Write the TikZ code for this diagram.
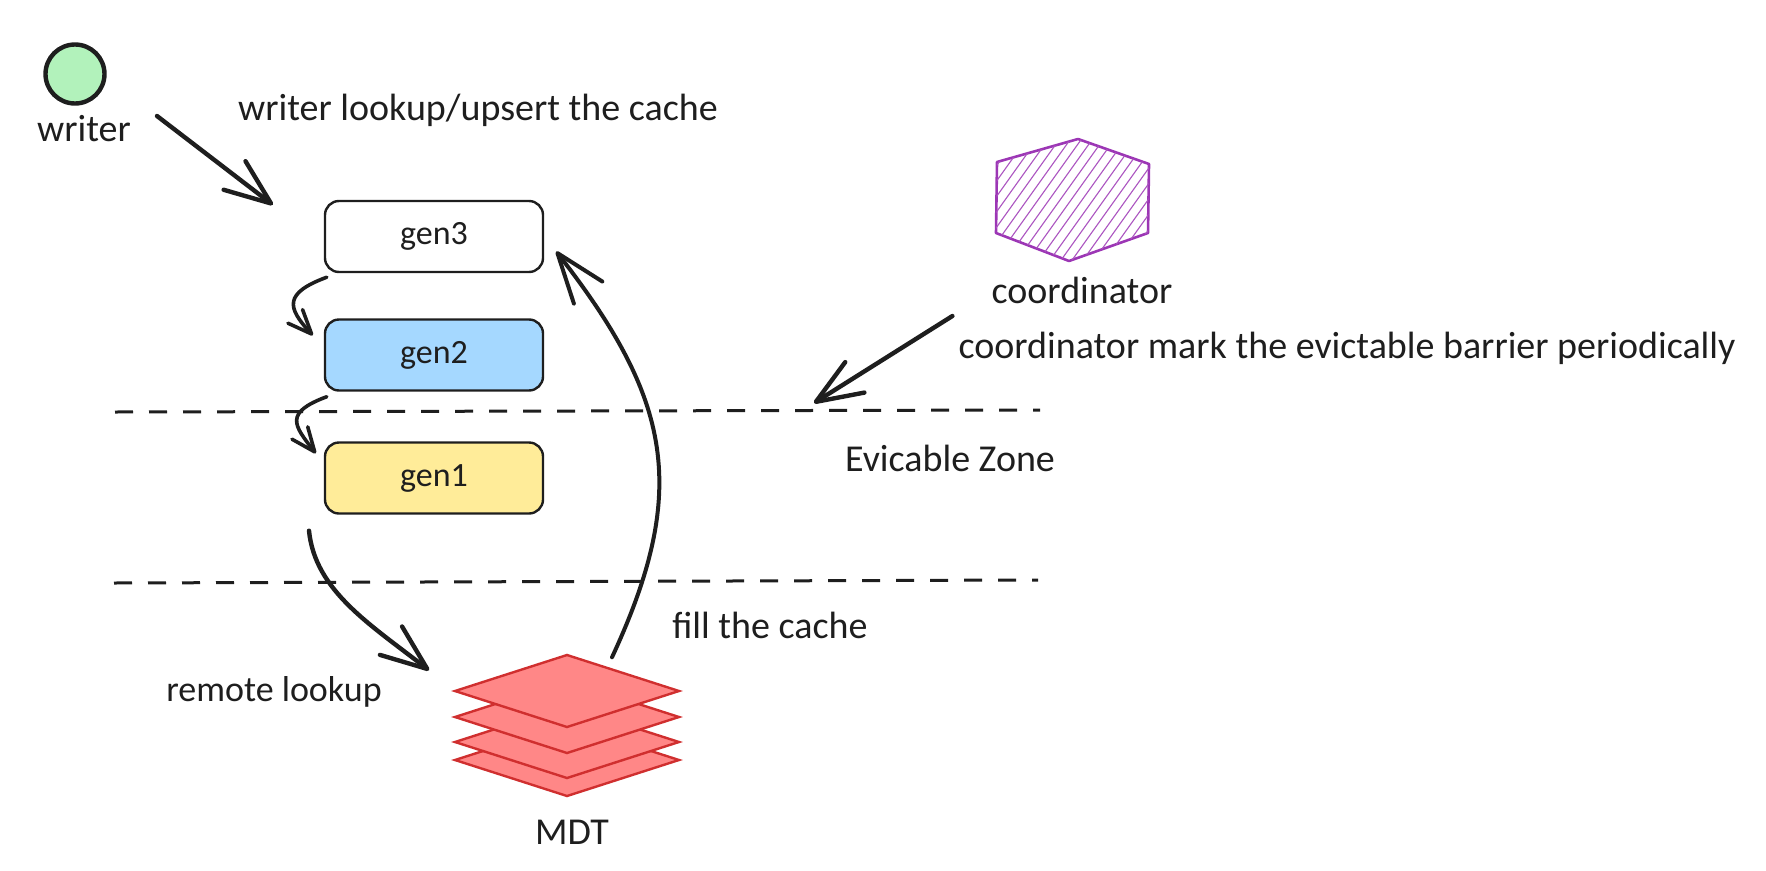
\documentclass[tikz,border=0pt]{standalone}
\usepackage{fontspec}
\setmainfont{Carlito}
\usetikzlibrary{shapes,arrows.meta,positioning,calc}

\definecolor{ink}{HTML}{1E1E1E}
\definecolor{writergreen}{HTML}{B2F2BB}
\definecolor{genblue}{HTML}{A5D8FF}
\definecolor{genyellow}{HTML}{FFEC99}
\definecolor{mdtfill}{HTML}{FF8787}
\definecolor{mdtline}{HTML}{D02F2F}
\definecolor{coordline}{HTML}{9C36B5}

\begin{document}
\begin{tikzpicture}[
    x=1pt, y=-1pt,
    label/.style={inner sep=0pt, text=ink, font=\fontsize{38}{40}\selectfont},
    box/.style={rectangle, rounded corners=14pt, draw=ink, line width=2.4pt, minimum width=218pt, minimum height=71pt, inner sep=0pt, text=ink, font=\fontsize{34}{38}\selectfont},
    layer/.style={diamond, aspect=3, draw=mdtline, line width=2.4pt, fill=mdtfill, minimum width=225pt, minimum height=73pt, inner sep=0pt},
    arrow/.style={line width=4.4pt, draw=ink, line cap=round, -{Straight Barb[length=46pt, width=36pt, round]}},
    thinarrow/.style={line width=3.6pt, draw=ink, line cap=round, -{Straight Barb[length=24pt, width=20pt, round]}},
    fillarrow/.style={line width=4pt, draw=ink, line cap=round, -{Straight Barb[length=50pt, width=36pt, round]}},
    barrier/.style={line width=3pt, draw=ink, dash pattern=on 18pt off 16pt}
]
    \useasboundingbox (0,0) rectangle (1766,870);

    % Writer
    \node[circle, draw=ink, line width=4.4pt, fill=writergreen, minimum size=59pt, inner sep=0pt] (writer) at (75,74) {};
    \node[label] (writer_desc) at (84,129) {writer};
    \node[label] (writer_note) at (478,110) {writer lookup/upsert the cache};

    % Generations
    \node[box] (gen3) at (434,236.5) {gen3};
    \node[box, fill=genblue] (gen2) at (434,355) {gen2};
    \node[box, fill=genyellow] (gen1) at (434,478) {gen1};

    % Barriers
    \coordinate (upper_left) at (115,412);
    \coordinate (upper_right) at (1040,410);
    \coordinate (lower_left) at (114,583);
    \coordinate (lower_right) at (1038,580);
    \coordinate (barrier_mark) at (814,403);
    \draw[barrier] (upper_left) -- (upper_right);
    \draw[barrier] (lower_left) -- (lower_right);
    \node[label] (zone_note) at (950,458) {Evicable Zone};

    % Coordinator
    \draw[line width=2.6pt, draw=coordline, line join=round] (1078,139) -- (1149,164) -- (1148,233) -- (1069,261) -- (996,233) -- (997,162) -- cycle;
    \begin{scope}
        \clip (1078,139) -- (1149,164) -- (1148,233) -- (1069,261) -- (996,233) -- (997,162) -- cycle;
        \foreach \i in {0,...,24} {
            \draw[line width=1.1pt, draw=coordline!85] (1000+\i*11,130) -- (900+\i*11,270);
        }
    \end{scope}
    \node[label] (coord_desc) at (1082,290) {coordinator};
    \node[label] (coord_note) at (1347,348) {coordinator mark the evictable barrier periodically};

    % MDT
    \foreach \name/\y in {mdt4/760, mdt3/742, mdt2/717, mdt1/691} {
        \node[layer] (\name) at (567,\y) {};
    }
    \node[label] (mdt_desc) at (572,832) {MDT};
    \node[label, font=\fontsize{36}{40}\selectfont] (remote_note) at (274,692) {remote lookup};
    \node[label] (fill_note) at (770,625) {fill the cache};

    % Arrows
    \draw[arrow] ([shift={(26,-13)}]writer_desc.east) -- ([shift={(-51,5)}]gen3.north west);
    \draw[thinarrow] ([shift={(3,4)}]gen3.south west) .. controls +(-43,16) and +(-26,-28) .. ([shift={(-11,17)}]gen2.north west);
    \draw[thinarrow] ([shift={(3,5)}]gen2.south west) .. controls +(-43,16) and +(-22,-28) .. ([shift={(-8,12)}]gen1.north west);
    \draw[arrow] ([shift={(-125,16)}]gen1.south) .. controls +(6,60) and +(-59,-46) .. ([shift={(-138,17)}]mdt1.north);
    \draw[fillarrow] ([shift={(45,4)}]mdt1.north) .. controls +(78,-168) and +(115,148) .. ([shift={(12,15)}]gen3.east);
    \draw[arrow] ([shift={(-6,-32)}]coord_note.west) -- (barrier_mark);
\end{tikzpicture}
\end{document}
